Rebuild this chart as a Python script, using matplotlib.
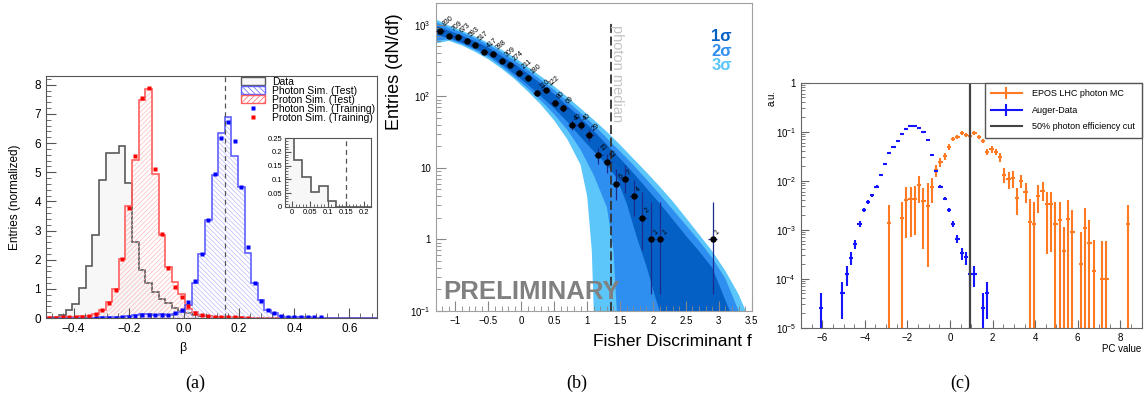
import numpy as np
import matplotlib.pyplot as plt
import matplotlib.ticker as mt
from matplotlib.patches import Patch
from matplotlib.lines import Line2D

plt.rcParams['font.family'] = ['Liberation Sans', 'DejaVu Sans']
plt.rcParams['mathtext.fontset'] = 'custom'
plt.rcParams['mathtext.rm'] = 'Liberation Sans'
plt.rcParams['mathtext.it'] = 'Liberation Sans:italic'
plt.rcParams['hatch.linewidth'] = 0.5

# ---------------- (a) beta distributions, 50 bins from -0.5 to 0.7
beta_lo, beta_hi, nbins = -0.5, 0.7, 50
data_a = [0.01, 0.02, 0.1, 0.26, 0.48, 1.02, 1.77, 2.85, 4.72, 5.66,
          5.66, 5.9, 4.63, 2.6, 1.64, 1.2, 0.88, 0.65, 0.5, 0.35,
          0.25, 0.17, 0.11, 0.055, 0.075, 0.02, 0, 0, 0, 0,
          0, 0, 0, 0, 0, 0, 0, 0, 0, 0,
          0, 0, 0, 0, 0, 0, 0, 0, 0, 0]
proton_test = [0.02, 0.02, 0.03, 0.03, 0.04, 0.06, 0.08, 0.14, 0.27, 0.54,
               0.98, 2.04, 3.84, 5.41, 7.47, 7.87, 4.93, 2.84, 1.76, 1.24,
               0.84, 0.3, 0.2, 0.12, 0.08, 0.05, 0.04, 0.03, 0.02, 0.02,
               0.01, 0.01, 0, 0, 0, 0, 0, 0, 0, 0,
               0, 0, 0, 0, 0, 0, 0, 0, 0, 0]
photon_test = [0, 0, 0, 0, 0, 0, 0.01, 0.01, 0.02, 0.02,
               0.03, 0.04, 0.06, 0.1, 0.13, 0.14, 0.12, 0.13, 0.12, 0.15,
               0.22, 0.44, 1.19, 2.19, 3.35, 4.92, 6.34, 6.88, 5.57, 4.49,
               2.23, 1.21, 0.62, 0.27, 0.16, 0.08, 0.05, 0.03, 0.02, 0.02,
               0.01, 0.01, 0, 0, 0, 0, 0, 0, 0, 0]
nan = np.nan
photon_train = [nan, nan, nan, nan, nan, nan, nan, 0.0, 0.01, 0.01,
                0.01, 0.02, 0.03, 0.08, 0.1, 0.1, 0.1, 0.11, 0.1, 0.18,
                0.28, 0.54, 1.28, 2.19, 3.37, 4.95, 6.18, 6.71, 6.06, 4.5,
                2.42, 1.21, 0.58, 0.27, 0.18, 0.08, 0.05, 0.04, 0.03, 0.02,
                0.02, 0.02, nan, nan, nan, nan, nan, nan, nan, nan]
proton_train = [0.01, 0.01, 0.02, 0.02, 0.03, 0.05, 0.07, 0.14, 0.27, 0.5,
                0.96, 2.03, 3.78, 5.55, 7.56, 7.89, 5.11, 2.88, 1.7, 1.08,
                0.73, 0.42, 0.18, 0.1, 0.07, 0.05, 0.03, 0.02, 0.02, 0.01,
                0.01, nan, nan, nan, nan, nan, nan, nan, nan, nan,
                nan, nan, nan, nan, nan, nan, nan, nan, nan, nan]
beta_cut = 0.15

# ---------------- (b) Fisher discriminant
fisher_x = [-1.23, -1.095, -0.965, -0.83, -0.70, -0.565, -0.43, -0.295, -0.165, -0.03,
            0.10, 0.235, 0.37, 0.505, 0.64, 0.77, 0.90, 1.035, 1.17, 1.305,
            1.44, 1.57, 1.705, 1.84, 1.97, 2.105, 2.905]
fisher_n = [830, 709, 673, 593, 517, 417, 388, 309, 274, 211,
            180, 110, 122, 80, 69, 40, 40, 29, 15, 12,
            6, 7, 4, 2, 1, 1, 1]
fisher_lo = [801, 683, 647, 569, 494, 397, 368, 291, 258, 197,
             167, 100, 111, 71, 61, 34, 34, 24, 11.2, 8.6,
             3.6, 4.4, 2.1, 0.71, 0.17, 0.17, 0.17]
fisher_hi = [859, 736, 699, 618, 540, 438, 408, 327, 291, 226,
             194, 121, 133, 89, 78, 47, 47, 35, 18.9, 15.5,
             9.6, 10.8, 6.7, 4.6, 3.3, 3.3, 3.3]
photon_median = 1.36

band_x = [-1.3, -1.1, -0.9, -0.7, -0.5, -0.3, -0.1, 0.1, 0.3, 0.5, 0.7, 0.9, 1.1,
          1.3, 1.5, 1.7, 1.9, 2.1, 2.3, 2.5, 2.7, 2.9, 3.1, 3.3, 3.5]
up3 = [1200, 980, 830, 690, 560, 450, 350, 257, 190, 138, 98, 68, 47,
       32, 21, 13.5, 8.7, 5.5, 3.4, 2.0, 1.17, 0.68, 0.36, 0.17, 0.063]
up2 = [1100, 910, 780, 650, 525, 415, 316, 234, 170, 123, 85, 59, 40,
       26, 17, 11, 6.9, 4.3, 2.6, 1.58, 0.95, 0.55, 0.28, 0.1, 0.03]
up1 = [980, 830, 710, 590, 480, 370, 282, 209, 151, 107, 74, 50, 33,
       21, 13.5, 8.5, 5.2, 3.2, 1.9, 1.12, 0.68, 0.4, 0.14, 0.05, 0.016]
low1_x = [-1.3, -1.1, -0.9, -0.7, -0.5, -0.3, -0.1, 0.1, 0.3, 0.5, 0.7, 0.9, 1.1,
          1.3, 1.45, 1.6, 1.75, 1.9, 2.05, 2.1, 2.15]
low1 = [725, 660, 560, 470, 380, 282, 204, 145, 100, 68, 44, 27, 17,
        11, 7.2, 3.2, 1.1, 0.42, 0.14, 0.1, 0.04]
low2_x = [-1.3, -1.1, -0.9, -0.7, -0.5, -0.3, -0.1, 0.1, 0.3, 0.5, 0.7, 0.9, 1.1,
          1.3, 1.4, 1.45, 1.48]
low2 = [600, 630, 540, 445, 355, 263, 186, 129, 87, 56, 34, 18, 7.9,
        2.8, 0.7, 0.1, 0.03]
low3_x = [-1.3, -1.1, -0.9, -0.7, -0.5, -0.3, -0.1, 0.1, 0.3, 0.5, 0.7, 0.9, 1.0,
          1.07, 1.1, 1.12]
low3 = [550, 600, 515, 420, 330, 245, 174, 117, 76, 46, 25, 11, 4.0,
        0.7, 0.1, 0.03]

# ---------------- (c) PC value
mc_x = [-2.85, -2.25, -2.05, -1.85, -1.65, -1.45, -1.25, -1.05, -0.85, -0.65,
        -0.45, -0.25, -0.05, 0.15, 0.35, 0.55, 0.75, 0.95, 1.15, 1.35,
        1.55, 1.75, 1.95, 2.15, 2.35, 2.55, 2.75, 2.95, 3.15, 3.35,
        3.55, 3.75, 3.95, 4.15, 4.35, 4.55, 4.75, 4.95, 5.15, 5.35,
        5.55, 5.75, 6.15, 6.35, 6.55, 6.75, 7.15, 7.35, 8.35]
mc_y = [1.35e-3, 1.74e-3, 4.1e-3, 4.3e-3, 4.3e-3, 8.1e-3, 3.9e-3, 3.0e-3, 7.4e-3, 1.66e-2,
        2.45e-2, 3.16e-2, 4.9e-2, 7.1e-2, 7.8e-2, 9.3e-2, 8.5e-2, 8.1e-2, 9.3e-2, 7.8e-2,
        6.5e-2, 3.9e-2, 4.4e-2, 3.9e-2, 3.0e-2, 1.32e-2, 1.07e-2, 1.12e-2, 4.4e-3, 1.0e-2,
        6.0e-3, 1.45e-3, 1.29e-3, 4.9e-3, 6.3e-3, 3.3e-3, 3.3e-3, 1.29e-3, 1.55e-3, 3.7e-4,
        1.66e-3, 9.1e-4, 2.0e-4, 1.1e-3, 5.4e-4, 1.45e-4, 1.0e-4, 1.0e-4, 1.32e-3]
mc_lo = [0, 0, 6.9e-4, 7.1e-4, 7.9e-4, 3.5e-3, 4.0e-4, 1.7e-4, 3.5e-3, 1.17e-2,
         1.9e-2, 2.63e-2, 4.27e-2, 6.5e-2, 7.1e-2, 8.5e-2, 7.8e-2, 7.4e-2, 8.5e-2, 7.1e-2,
         5.75e-2, 3.3e-2, 3.7e-2, 3.3e-2, 2.4e-2, 8.9e-3, 6.8e-3, 7.1e-3, 2.0e-3, 7.1e-3,
         3.5e-3, 0, 0, 2.2e-3, 3.8e-3, 3.2e-4, 3.5e-4, 0, 0, 0,
         0, 0, 0, 0, 0, 0, 0, 0, 0]
mc_hi = [3.2e-3, 3.7e-3, 7.4e-3, 7.6e-3, 7.9e-3, 1.26e-2, 7.1e-3, 8.9e-3, 1.12e-2, 2.14e-2,
         2.95e-2, 3.63e-2, 5.5e-2, 7.8e-2, 8.5e-2, 0.102, 9.3e-2, 8.9e-2, 0.102, 8.5e-2,
         7.2e-2, 4.5e-2, 5.0e-2, 4.5e-2, 3.7e-2, 1.78e-2, 1.51e-2, 1.58e-2, 7.1e-3, 1.32e-2,
         8.9e-3, 4.2e-3, 3.7e-3, 8.3e-3, 9.5e-3, 6.0e-3, 6.0e-3, 3.7e-3, 3.7e-3, 1.12e-3,
         4.0e-3, 2.5e-3, 8.9e-4, 2.8e-3, 1.6e-3, 6.3e-4, 6.0e-4, 6.0e-4, 3.2e-3]

auger_x = [-6.05, -5.05, -4.85, -4.65, -4.45, -4.25, -4.05, -3.85, -3.65, -3.45,
           -3.25, -3.05, -2.85, -2.65, -2.45, -2.25, -2.05, -1.85, -1.65, -1.45,
           -1.25, -1.05, -0.85, -0.65, -0.45, -0.25, -0.05, 0.15, 0.35, 0.55,
           0.75, 0.95, 1.15, 1.55, 1.75]
auger_y = [2.5e-5, 5.0e-5, 1.25e-4, 2.7e-4, 5.1e-4, 1.3e-3, 2.5e-3, 3.7e-3, 5.1e-3, 7.6e-3,
           1.3e-2, 2.2e-2, 3.7e-2, 4.9e-2, 6.6e-2, 8.9e-2, 0.115, 0.13, 0.13, 0.12,
           9.8e-2, 6.8e-2, 3.3e-2, 1.6e-2, 7.6e-3, 4.3e-3, 2.5e-3, 1.3e-3, 6.6e-4, 3.3e-4,
           2.75e-4, 1.25e-4, 1.25e-4, 2.5e-5, 5.0e-5]
auger_err = [2.5e-5, 3.5e-5, 5.5e-5, 8e-5, 1.1e-4, 1.8e-4, 2.5e-4, 3e-4, 3.6e-4, 4.4e-4,
             5.7e-4, 7.4e-4, 9.6e-4, 1.1e-3, 1.3e-3, 1.5e-3, 1.7e-3, 1.8e-3, 1.8e-3, 1.7e-3,
             1.6e-3, 1.3e-3, 9e-4, 6.3e-4, 4.4e-4, 3.3e-4, 2.5e-4, 1.8e-4, 1.3e-4, 9e-5,
             8.3e-5, 5.6e-5, 5.6e-5, 2.5e-5, 3.5e-5]
pc_cut = 0.93

fig = plt.figure(figsize=(11.47, 4.03), dpi=100)

# ======================= panel (a)
ax = fig.add_axes([0.0401, 0.2109, 0.2886, 0.6005])
edges = np.linspace(beta_lo, beta_hi, nbins + 1)
centers = 0.5 * (edges[1:] + edges[:-1])
ax.stairs(data_a, edges, fill=True, facecolor='#f7f7f7', lw=0)
ax.stairs(data_a, edges, color='#5a5a5a', lw=1.2)
ax.stairs(proton_test, edges, fill=True, facecolor='none', edgecolor='#ffb8b8',
          hatch='///////', lw=0)
ax.stairs(proton_test, edges, color='#ff5f5f', lw=1.2)
ax.stairs(photon_test, edges, fill=True, facecolor='none', edgecolor='#b8b8ff',
          hatch='\\\\\\\\\\\\\\', lw=0)
ax.stairs(photon_test, edges, color='#6060ff', lw=1.2)
ax.plot(centers, photon_train, 's', color='#0000ff', ms=2.3, mec='none')
ax.plot(centers, proton_train, 's', color='#ff0000', ms=2.3, mec='none')
ax.axvline(beta_cut, color='#555555', ls=(0, (4, 3)), lw=0.9)
ax.set_xlim(beta_lo, beta_hi)
ax.set_ylim(0, 8.3)
ax.xaxis.set_major_locator(mt.MultipleLocator(0.2))
ax.xaxis.set_minor_locator(mt.MultipleLocator(0.04))
ax.yaxis.set_major_locator(mt.MultipleLocator(1))
ax.yaxis.set_minor_locator(mt.MultipleLocator(0.2))
ax.tick_params(which='both', direction='in', labelsize=8.5, color='#555555')
ax.tick_params(which='major', length=7)
ax.tick_params(which='minor', length=3.5)
for s in ax.spines.values():
    s.set_color('#555555')
ax.set_ylabel('Entries (normalized)', fontsize=8.5)
ax.yaxis.set_label_coords(-0.075, 0.5)
ax.set_xlabel('β', fontsize=9)
ax.xaxis.set_label_coords(0.414, -0.1)

handles = [Patch(facecolor='#f7f7f7', edgecolor='#5a5a5a', lw=1),
           Patch(facecolor='white', edgecolor='#6060ff', hatch='\\\\\\\\\\\\', lw=1),
           Patch(facecolor='white', edgecolor='#ff5f5f', hatch='//////', lw=1),
           Line2D([], [], marker='s', ls='none', color='#0000ff', ms=2.3, mec='none'),
           Line2D([], [], marker='s', ls='none', color='#ff0000', ms=2.3, mec='none')]
labels = ['Data', 'Photon Sim. (Test)', 'Proton Sim. (Test)',
          'Photon Sim. (Training)', 'Proton Sim. (Training)']
ax.legend(handles, labels, loc='upper left', bbox_to_anchor=(0.589, 0.997),
          frameon=False, fontsize=7.5, labelspacing=-0.1, handlelength=2.3,
          handleheight=0.8, handletextpad=0.65, borderpad=0, borderaxespad=0)

axi = fig.add_axes([0.2485, 0.4871, 0.0747, 0.1697])
axi.stairs(data_a, edges, fill=True, facecolor='#f7f7f7', lw=0)
axi.stairs(data_a, edges, color='#5a5a5a', lw=1.2)
axi.axvline(beta_cut, color='#555555', ls=(0, (4, 3)), lw=0.9)
axi.set_xlim(-0.02, 0.22)
axi.set_ylim(0, 0.25)
axi.xaxis.set_major_locator(mt.MultipleLocator(0.05))
axi.xaxis.set_minor_locator(mt.MultipleLocator(0.01))
axi.yaxis.set_major_locator(mt.MultipleLocator(0.05))
axi.yaxis.set_minor_locator(mt.MultipleLocator(0.01))
axi.xaxis.set_major_formatter(mt.FuncFormatter(lambda v, p: f'{v:g}'))
axi.yaxis.set_major_formatter(mt.FuncFormatter(lambda v, p: f'{v:g}'))
axi.tick_params(which='both', direction='in', labelsize=5.5, color='#555555', pad=2)
axi.tick_params(which='major', length=4)
axi.tick_params(which='minor', length=2)
for s in axi.spines.values():
    s.set_color('#555555')

# ======================= panel (b)
bx = fig.add_axes([0.3799, 0.229, 0.2755, 0.7643])
c3, c2, c1 = '#5cc6fa', '#2e8ff0', '#0560c6'
bx.fill(band_x + low3_x[::-1], up3 + low3[::-1], color=c3, lw=0)
bx.fill(band_x + low2_x[::-1], up2 + low2[::-1], color=c2, lw=0)
bx.fill(band_x + low1_x[::-1], up1 + low1[::-1], color=c1, lw=0)
n = np.array(fisher_n, float)
bx.errorbar(fisher_x, fisher_n, xerr=0.065,
            yerr=[n - np.array(fisher_lo), np.array(fisher_hi) - n],
            fmt='o', ms=3.6, color='black', ecolor='#1c2c8c', elinewidth=0.9,
            capsize=0, zorder=5)
for xv, nv in zip(fisher_x, fisher_n):
    bx.annotate(str(nv), (xv, nv), xytext=(0.8, 2.0), textcoords='offset points',
                rotation=40, fontsize=5, ha='left', va='bottom', zorder=6)
bx.vlines(photon_median, 0.1, 1070, colors='#333333', linestyles=(0, (5, 2)), lw=1.3)
bx.text(1.455, 1000, 'photon median', rotation=-90, ha='center', va='top',
        fontsize=10.5, color='#c4c4c4')
bx.text(0.023, 0.038, 'PRELIMINARY', transform=bx.transAxes, fontsize=18.5,
        fontweight='bold', color='#808080', va='baseline')
bx.text(0.937, 0.889, '1σ', transform=bx.transAxes, ha='right', va='center',
        fontsize=12, fontweight='bold', color=c1)
bx.text(0.937, 0.841, '2σ', transform=bx.transAxes, ha='right', va='center',
        fontsize=12, fontweight='bold', color=c2)
bx.text(0.937, 0.796, '3σ', transform=bx.transAxes, ha='right', va='center',
        fontsize=12, fontweight='bold', color=c3)
bx.set_yscale('log')
bx.set_xlim(-1.3, 3.5)
bx.set_ylim(0.1, 2050)
bx.set_yticks([0.1, 1, 10, 100, 1000])
bx.set_yticklabels([r'$10^{-1}$', '1', '10', r'$10^{2}$', r'$10^{3}$'])
bx.xaxis.set_major_locator(mt.MultipleLocator(0.5))
bx.xaxis.set_minor_locator(mt.MultipleLocator(0.1))
bx.xaxis.set_major_formatter(mt.FuncFormatter(lambda v, p: f'{v:g}'.replace('-', '\u2212')))
bx.yaxis.set_minor_locator(mt.LogLocator(base=10, subs=np.arange(2, 10), numticks=20))
bx.yaxis.set_minor_formatter(mt.NullFormatter())
bx.tick_params(which='both', direction='in', labelsize=7, color='#888888')
bx.tick_params(which='major', length=7)
bx.tick_params(which='minor', length=3.5)
for s in bx.spines.values():
    s.set_color('#a0a0a0')
bx.set_ylabel('Entries (dN/df)', fontsize=13)
bx.yaxis.set_label_coords(-0.105, 0.775)
bx.set_xlabel('Fisher Discriminant f', fontsize=12.5, loc='right')
bx.xaxis.set_label_coords(1.0, -0.075)
bx.xaxis.label.set_horizontalalignment('right')

# ======================= panel (c)
cx = fig.add_axes([0.6983, 0.1868, 0.297, 0.608])
orange, blue = '#ff7a22', '#1414ff'
my = np.array(mc_y)
cx.errorbar(mc_x, mc_y, xerr=0.1, yerr=[my - np.array(mc_lo), np.array(mc_hi) - my],
            fmt='none', ecolor=orange, elinewidth=1.5, capsize=0)
cx.errorbar(auger_x, auger_y, xerr=0.1, yerr=auger_err,
            fmt='none', ecolor=blue, elinewidth=1.5, capsize=0)
cx.axvline(pc_cut, color='#444444', lw=1.6)
cx.set_yscale('log', nonpositive='clip')
cx.set_xlim(-7, 9)
cx.set_ylim(1e-5, 1)
cx.set_yticks([1e-5, 1e-4, 1e-3, 1e-2, 1e-1, 1])
cx.set_yticklabels([r'$10^{-5}$', r'$10^{-4}$', r'$10^{-3}$', r'$10^{-2}$',
                    r'$10^{-1}$', '1'])
cx.yaxis.set_minor_locator(mt.LogLocator(base=10, subs=np.arange(2, 10), numticks=20))
cx.yaxis.set_minor_formatter(mt.NullFormatter())
cx.xaxis.set_major_locator(mt.MultipleLocator(2))
cx.xaxis.set_minor_locator(mt.MultipleLocator(0.5))
cx.xaxis.set_major_formatter(mt.FuncFormatter(lambda v, p: f'{v:g}'.replace('-', '\u2212')))
cx.tick_params(which='both', direction='in', labelsize=7, color='#666666')
cx.tick_params(which='major', length=6)
cx.tick_params(which='minor', length=3)
for s in cx.spines.values():
    s.set_color('#666666')
cx.set_ylabel('a.u.', fontsize=7, loc='top')
cx.yaxis.set_label_coords(-0.07, 0.97)
cx.set_xlabel('PC value', fontsize=7, loc='right')
cx.xaxis.set_label_coords(1.0, -0.065)
leg_h = [Line2D([], [], color=orange, marker='|', ms=9, mew=1.5, lw=1.5),
         Line2D([], [], color=blue, marker='|', ms=9, mew=1.5, lw=1.5),
         Line2D([], [], color='#444444', lw=1.5)]
leg_l = ['EPOS LHC photon MC', 'Auger-Data', '50% photon efficiency cut']
lg = cx.legend(leg_h, leg_l, loc='upper right', bbox_to_anchor=(1, 1), fontsize=6.5,
               fancybox=False, edgecolor='#555555', framealpha=1, borderaxespad=0,
               labelspacing=0.85, handlelength=3.4, handletextpad=1.2, borderpad=0.7)
lg.get_frame().set_linewidth(1.0)

# captions
for xf, cap in [(195, '(a)'), (577, '(b)'), (960, '(c)')]:
    fig.text(xf / 1147, 1 - 383 / 403, cap, ha='center', va='center',
             fontsize=13, family='Liberation Serif')

fig.savefig('out.png', dpi=100)
